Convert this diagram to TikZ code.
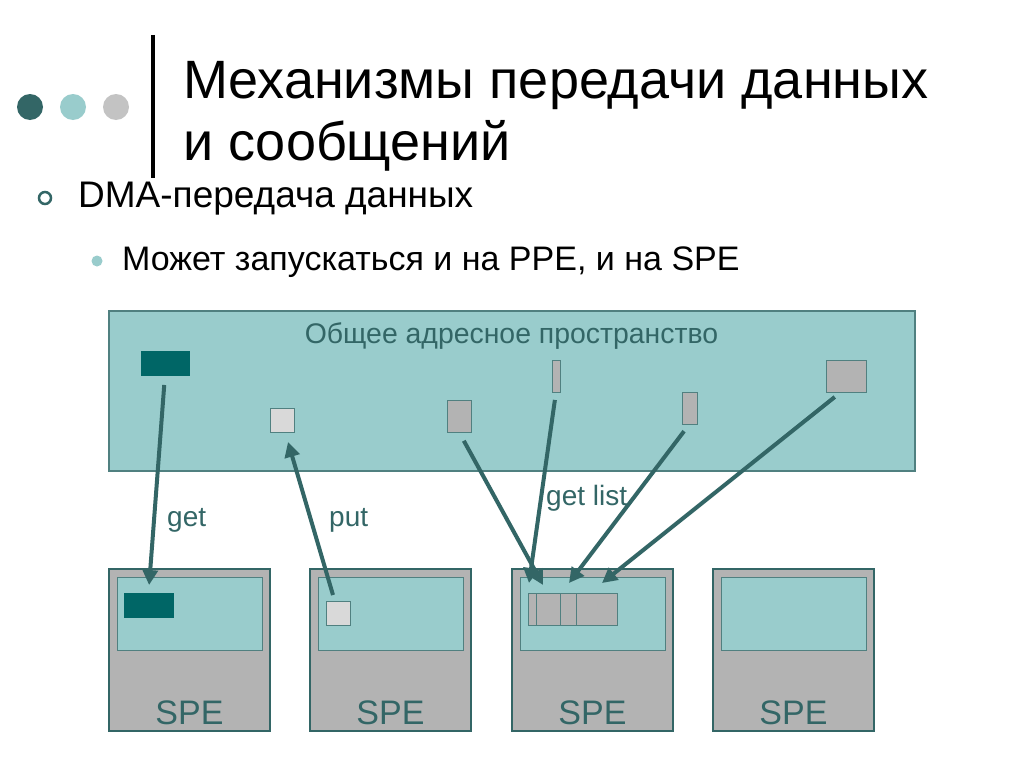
\documentclass[tikz,border=0pt]{standalone}
\usepackage{fontspec}
\setmainfont{Liberation Sans}
\usetikzlibrary{arrows.meta}
\definecolor{dteal}{RGB}{51,102,102}
\definecolor{bteal}{RGB}{0,102,102}
\definecolor{lteal}{RGB}{153,204,204}
\definecolor{mgrey}{RGB}{179,179,179}
\definecolor{lgrey}{RGB}{217,217,217}
\definecolor{edgec}{RGB}{80,128,128}
\tikzset{
  blk/.style={draw=edgec, line width=1pt, inner sep=0pt, outer sep=0pt},
  arr/.style={draw=dteal, line width=4pt, -{Triangle[length=15pt,width=15pt]}},
  lbl/.style={text=dteal, font=\fontsize{28}{32}\selectfont, inner sep=0pt, anchor=base west},
  spe/.style={draw=dteal, fill=mgrey, line width=2pt, minimum width=161pt, minimum height=162pt, inner sep=0pt},
  inner/.style={draw=edgec, fill=lteal, line width=1pt, minimum width=145pt, minimum height=73pt, inner sep=0pt},
  spetxt/.style={text=dteal, font=\fontsize{34}{38}\selectfont, inner sep=0pt, anchor=base}
}
\begin{document}
\begin{tikzpicture}[x=1pt,y=-1pt]
\useasboundingbox (0,0) rectangle (1024,768);
\fill[white] (0,0) rectangle (1024,768);
% header
\fill[dteal] (30,107) circle (13);
\fill[lteal] (73,107) circle (13);
\fill[lgrey!90!black] (116,107) circle (13);
\draw[black, line width=4pt] (153,35) -- (153,178);
\node[inner sep=0pt, anchor=base west, font=\fontsize{54}{60}\selectfont] (t1) at (183,98) {Механизмы передачи данных};
\node[inner sep=0pt, anchor=base west, font=\fontsize{54}{60}\selectfont] (t2) at (183,160) {и сообщений};
\draw[dteal, line width=2.5pt] (45,198) circle (6);
\node[inner sep=0pt, anchor=base west, font=\fontsize{37}{40}\selectfont] (b1) at (78,207) {DMA-передача данных};
\fill[lteal] (97,261) circle (5.5);
\node[inner sep=0pt, anchor=base west, font=\fontsize{34}{38}\selectfont] (b2) at (122,270) {Может запускаться и на PPE, и на SPE};
% address space
\node[draw=edgec, fill=lteal, line width=1.2pt, minimum width=806pt, minimum height=160pt, inner sep=0pt] (mem) at (512,391) {};
\node[text=dteal, inner sep=0pt, anchor=base, font=\fontsize{28.4}{32}\selectfont] (memt) at (511.5,343) {Общее адресное пространство};
\node[blk, fill=bteal, draw=bteal, minimum width=48pt, minimum height=24pt] (a) at (165,363) {};
\node[blk, fill=lgrey, minimum width=24pt, minimum height=24pt] (p) at (282,420) {};
\node[blk, fill=mgrey, minimum width=24pt, minimum height=32pt] (g1) at (459,416) {};
\node[blk, fill=mgrey, minimum width=8pt, minimum height=32pt] (g2) at (556,376) {};
\node[blk, fill=mgrey, minimum width=15pt, minimum height=32pt] (g3) at (689.5,408) {};
\node[blk, fill=mgrey, minimum width=40pt, minimum height=32pt] (g4) at (846,376) {};
% SPEs
\foreach \i/\cx in {1/189.5,2/390.5,3/592.5,4/793.5}{
  \node[spe] (s\i) at (\cx,650) {};
  \node[inner] (n\i) at (\cx,613.5) {};
  \node[spetxt] (st\i) at (\cx,724) {SPE};
}
\node[blk, fill=bteal, draw=bteal, minimum width=49pt, minimum height=24pt] (q1) at (148.5,605) {};
\node[blk, fill=lgrey, minimum width=24pt, minimum height=24pt] (q2) at (338,613) {};
\node[blk, fill=mgrey, minimum width=89pt, minimum height=32pt] (q3) at (572.5,609.5) {};
\draw[edgec, line width=1pt] (536,593.5) -- (536,625.5) (560,593.5) -- (560,625.5) (576,593.5) -- (576,625.5);
% arrows
\coordinate (e1) at (543,585);
\coordinate (e2) at (529,583);
\coordinate (e3) at (569,583);
\coordinate (e4) at (602,583);
\draw[arr, shorten <=10pt, shorten >=8pt] (a.south) -- (q1.north);
\draw[arr] ([xshift=-5pt,yshift=6pt]q2.north) -- ([xshift=6pt,yshift=-10pt]p.south);
\draw[arr, shorten <=10pt] (g1.south) -- (e1);
\draw[arr, shorten <=8pt] (g2.south) -- (e2);
\draw[arr, shorten <=9pt] (g3.south) -- (e3);
\draw[arr, shorten <=8pt] ([xshift=-5pt]g4.south) -- (e4);
% labels
\node[lbl] (lg) at (167,526) {get};
\node[lbl] (lp) at (329,526) {put};
\node[lbl] (ll) at (546,505) {get list};
\end{tikzpicture}
\end{document}
